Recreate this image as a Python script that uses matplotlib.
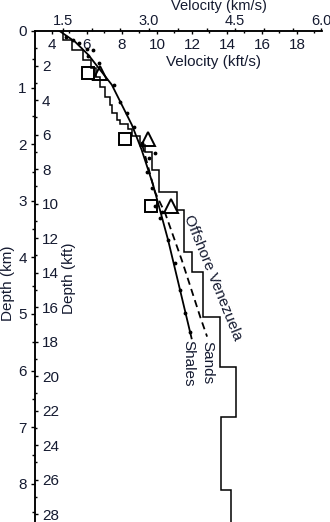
import numpy as np
import matplotlib.pyplot as plt

plt.rcParams['font.family'] = ['Liberation Sans', 'DejaVu Sans']
plt.rcParams['font.size'] = 11

KFT_PER_KM = 3.2808
TXT = '#141a30'

# Offshore Venezuela log: layer boundaries (km) and interval velocity (km/s)
venez_edges = [0.0, 0.159, 0.336, 0.512, 0.654, 0.813, 0.989, 1.166, 1.307,
               1.449, 1.572, 1.643, 1.731, 1.855, 2.014, 2.138, 2.456, 2.839,
               3.163, 3.899, 4.253, 5.048, 5.931, 6.820, 8.110, 8.70]
venez_vel = [1.50, 1.66, 1.84, 1.98, 2.08, 2.14, 2.23, 2.32, 2.35, 2.44,
             2.49, 2.63, 2.70, 2.84, 2.93, 3.05, 3.17, 3.48, 3.60, 3.74,
             3.94, 4.24, 4.51, 4.25, 4.43]

# shale trend
shales_depth = [0.0, 0.19, 0.42, 0.95, 1.66, 2.10, 2.72, 3.69, 4.58, 5.43]
shales_vel = [1.44, 1.71, 1.94, 2.35, 2.70, 2.87, 3.07, 3.33, 3.54, 3.74]

# sand trend
sands_depth = [2.01, 2.84, 3.22, 4.05, 4.58, 5.05, 5.40]
sands_vel = [2.88, 3.10, 3.28, 3.57, 3.74, 3.89, 4.01]

# individual measurements (dots)
dots_vel = [1.56, 1.68, 1.77, 1.91, 2.03, 1.94, 2.12, 2.38, 2.49, 2.61,
            2.73, 2.87, 3.10, 2.99, 2.96, 3.05, 3.10, 3.19, 3.22, 3.33,
            3.45, 3.54, 3.63, 3.71]
dots_depth = [0.10, 0.16, 0.22, 0.31, 0.34, 0.45, 0.57, 0.95, 1.25, 1.45,
              1.69, 1.98, 2.16, 2.25, 2.49, 2.78, 3.10, 3.31, 3.19, 3.69,
              4.10, 4.58, 4.99, 5.31]

sq_vel = [1.94, 2.58, 3.03]
sq_depth = [0.75, 1.90, 3.10]
tri_vel = [2.15, 2.98, 3.39]
tri_depth = [0.74, 1.90, 3.10]


def kms_to_kfts(v):
    # kft/s scale is drawn slightly shifted against km/s in the original
    return 4.63 + (np.asarray(v) - 1.5) * KFT_PER_KM


def kfts_to_kms(k):
    return 1.5 + (np.asarray(k) - 4.63) / KFT_PER_KM


fig = plt.figure(figsize=(3.3, 5.22), dpi=100)
ax = fig.add_axes([35/330, 0, 287/330, 491/522])
ax.set_xlim(1.012, 6.012)
ax.set_ylim(8.675, 0)

for s in ['right', 'bottom']:
    ax.spines[s].set_visible(False)
for s in ['left', 'top']:
    ax.spines[s].set_linewidth(1.1)

ax.stairs(venez_vel, venez_edges, orientation='horizontal', baseline=None,
          color='k', lw=1.1)
ax.plot(shales_vel, shales_depth, color='k', lw=1.3)
ax.plot(sands_vel, sands_depth, color='k', lw=1.3, ls=(0, (4, 2.5)))
ax.plot(dots_vel, dots_depth, 'k.', ms=3.5)
ax.plot(sq_vel, sq_depth, 's', mfc='none', mec='k', mew=1.4, ms=8.5)
ax.plot(tri_vel, tri_depth, '^', mfc='none', mec='k', mew=1.4, ms=9.5)

ax.text(4.11, 4.36, 'Offshore Venezuela', rotation=-68, ha='center',
        va='center', rotation_mode='anchor', color=TXT)
ax.text(4.01, 5.85, 'Sands', rotation=-90, ha='center', va='center', color=TXT)
ax.text(3.69, 5.87, 'Shales', rotation=-90, ha='center', va='center', color=TXT)

# km/s on top, ticks outward
ax.xaxis.tick_top()
ax.set_xticks([1.5, 3.0, 4.5, 6.0])
ax.set_xticklabels(['1.5', '3.0', '4.5', '6.0'])
ax.set_xticks(np.arange(1.5, 6.01, 0.5), minor=True)
ax.tick_params(axis='x', which='major', direction='out', length=2.5, width=1,
               pad=0, labelcolor=TXT, labelsize=10.5)
ax.tick_params(axis='x', which='minor', direction='out', length=2, width=1)

# km depth on the left
ax.set_yticks(range(0, 9))
ax.set_yticks(np.arange(0.5, 8.6, 0.5), minor=True)
ax.tick_params(axis='y', which='major', direction='out', length=3, width=1,
               pad=3, labelcolor=TXT)
ax.tick_params(axis='y', which='minor', direction='out', length=2, width=1)

# kft/s along the top, pointing into the plot
secx = ax.secondary_xaxis(1.0, functions=(kms_to_kfts, kfts_to_kms))
secx.set_alignment('bottom')
secx.set_xticks(range(4, 19, 2))
secx.set_xticks(range(3, 20), minor=True)
secx.tick_params(axis='x', which='major', direction='out', length=2.5,
                 width=1, pad=2.5, labelcolor=TXT)
secx.tick_params(axis='x', which='minor', direction='out', length=1.5, width=1)
secx.spines['bottom'].set_linewidth(1.1)

# kft depth on the right of the left spine
secy = ax.secondary_yaxis(0.0, functions=(lambda d: np.asarray(d) * KFT_PER_KM,
                                          lambda k: np.asarray(k) / KFT_PER_KM))
secy.set_alignment('right')
secy.set_yticks(range(2, 29, 2))
secy.set_yticks(range(1, 29), minor=True)
secy.tick_params(axis='y', which='major', direction='out', length=2.5,
                 width=1, pad=2.5, labelcolor=TXT)
secy.tick_params(axis='y', which='minor', direction='out', length=1.5, width=1)
secy.spines['right'].set_linewidth(1.1)

fig.text(219/330, 1 + 1/522, 'Velocity (km/s)', ha='center', va='top',
         color=TXT, fontsize=10.5)
fig.text(214/330, 1 - 62/522, 'Velocity (kft/s)', ha='center', va='center',
         color=TXT)
fig.text(8/330, 1 - 283/522, 'Depth (km)', rotation=90, ha='center',
         va='center', color=TXT)
fig.text(69/330, 1 - 278/522, 'Depth (kft)', rotation=90, ha='center',
         va='center', color=TXT)

fig.savefig('out.png', dpi=100)
